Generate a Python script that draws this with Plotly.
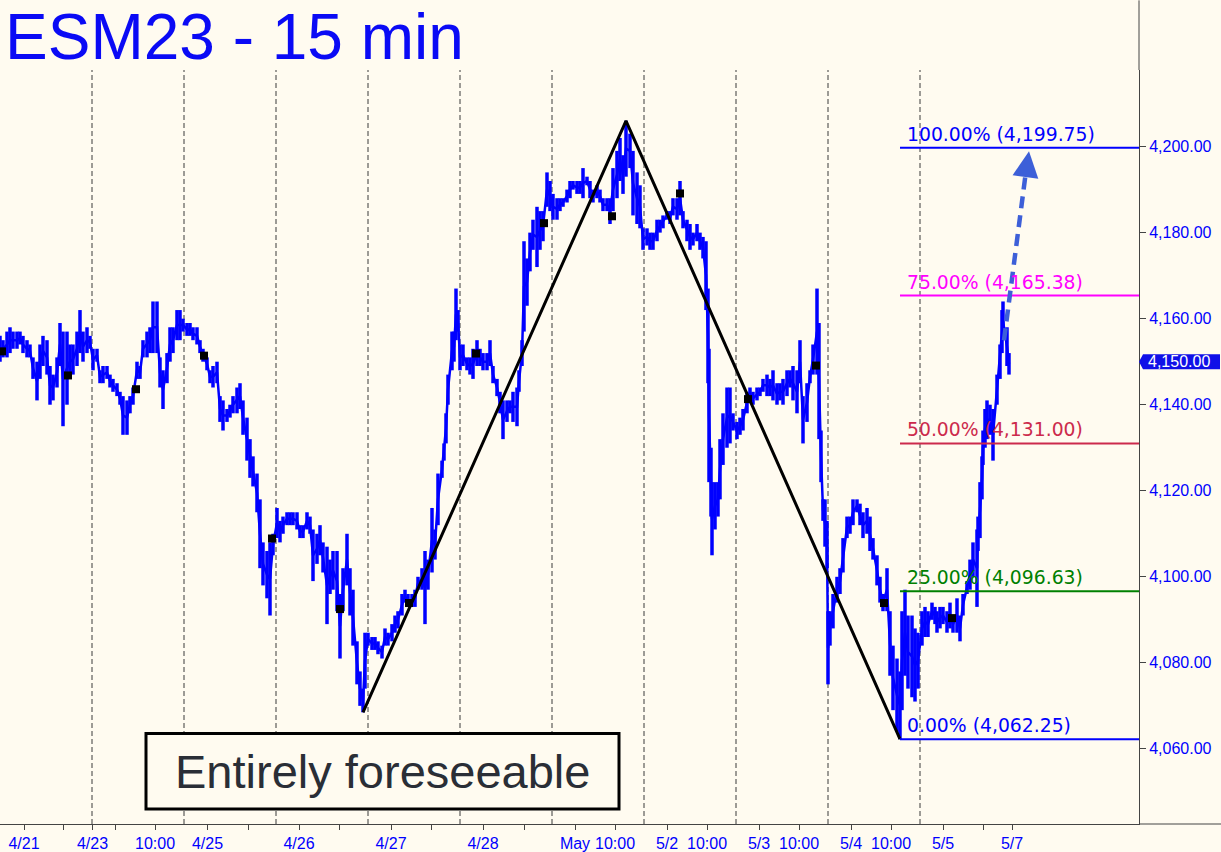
import plotly.graph_objects as go

# ---------------- data ----------------
bars = [0,3,7,10,13,17,20,23,27,30,33,37,40,43,47,50,53,57,60,63,67,70,73,77,80,83,87,90,93,97,
        100,103,107,110,113,117,120,123,127,130,133,137,140,143,147,150,153,157,160,163,167,170,173,177,180,183,187,190,193,197,
        200,203,207,210,213,217,220,223,227,230,233,237,240,243,247,250,253,257,260,263,267,270,273,277,280,283,287,290,293,297,
        300,303,307,310,313,317,320,323,327,330,333,337,340,343,347,350,353,357,360,363,365,368,372,375,378,382,385,388,392,395,398,
        402,405,408,412,415,418,422,425,428,432,435,438,442,444,446,448,452,454,456,458,460,463,467,470,473,477,480,483,487,490,493,497,
        500,503,507,510,513,517,519,522,524,527,530,533,537,540,543,547,550,553,557,560,563,567,570,573,577,580,583,587,590,593,597,
        600,603,607,610,613,617,620,623,626,630,633,637,640,643,647,650,653,657,660,663,667,670,673,677,680,683,687,690,693,697,
        700,703,706,708,709,711,712,715,718,720,723,727,730,733,737,740,743,747,750,753,757,760,763,767,770,773,777,780,783,787,790,793,797,
        800,803,807,810,813,817,819,821,823,825,827,828,830,833,837,840,843,847,850,853,857,860,863,867,870,873,877,880,883,887,890,893,897,
        900,902,905,908,912,915,918,922,925,928,932,935,937,940,943,947,950,953,957,960,963,967,970,973,977,978,980,982,983,985,987,990,993,997,
        1000,1002,1003,1007,1009]

highs = [4156,4155,4157,4158,4157,4157,4157,4156,4155,4154,4151,4150,4154,4156,4155,4149,4147,4151,4159,4157,4157,4154,4154,4157,4162,4157,4158,4156,4153,4153,
         4148,4149,4149,4147,4146,4145,4143,4142,4141,4142,4144,4150,4149,4155,4157,4158,4164,4164,4151,4148,4152,4158,4158,4162,4162,4160,4159,4159,4158,4158,
         4155,4153,4151,4148,4149,4150,4142,4141,4139,4140,4142,4144,4145,4141,4137,4132,4128,4124,4118,4108,4106,4108,4110,4116,4113,4114,4115,4115,4115,4115,
         4112,4112,4115,4114,4111,4110,4112,4108,4107,4104,4106,4106,4096,4102,4110,4102,4097,4085,4078,4074,4087,4087,4086,4086,4085,4084,4088,4087,4089,4091,4092,
         4096,4097,4096,4096,4097,4100,4102,4106,4104,4116,4111,4124,4127,4131,4138,4147,4157,4157,4167,4162,4154,4154,4151,4151,4153,4155,4153,4152,4152,4155,4149,4146,
         4143,4141,4141,4141,4143,4144,4148,4155,4178,4174,4180,4183,4186,4185,4185,4194,4192,4189,4188,4188,4188,4190,4192,4192,4192,4192,4195,4193,4192,4190,4191,
         4190,4188,4188,4188,4195,4199,4202,4198,4206,4203,4199,4194,4191,4181,4181,4180,4180,4183,4183,4184,4185,4185,4188,4188,4192,4185,4183,4182,4180,4182,
         4180,4179,4178,4167,4153,4130,4122,4122,4122,4132,4138,4144,4144,4138,4136,4137,4139,4143,4144,4143,4144,4144,4146,4147,4146,4148,4145,4145,4146,4148,4148,4149,4148,
         4155,4142,4145,4148,4154,4167,4159,4134,4118,4118,4113,4092,4092,4096,4100,4102,4109,4114,4114,4118,4118,4117,4115,4116,4114,4109,4105,4100,4096,4102,4092,4084,4081,
         4078,4092,4097,4091,4091,4088,4087,4092,4093,4092,4094,4093,4092,4093,4093,4092,4094,4091,4095,4091,4096,4099,4104,4108,4111,4114,4122,4128,4134,4139,4141,4140,4139,4147,
         4154,4162,4164,4158,4152]

lows = [4150,4151,4151,4152,4153,4153,4154,4152,4151,4151,4146,4141,4146,4149,4147,4140,4141,4144,4149,4135,4140,4146,4147,4149,4152,4150,4152,4153,4148,4150,
        4145,4145,4146,4144,4143,4142,4140,4133,4133,4138,4140,4146,4146,4151,4151,4152,4152,4152,4144,4139,4145,4150,4152,4155,4155,4157,4156,4156,4155,4154,
        4152,4150,4148,4145,4144,4145,4136,4134,4136,4137,4138,4138,4139,4133,4127,4123,4121,4115,4102,4098,4095,4091,4105,4109,4108,4110,4112,4112,4112,4111,
        4109,4109,4111,4110,4099,4103,4105,4101,4089,4096,4097,4092,4081,4092,4098,4091,4084,4075,4070,4068.5,4074,4084,4083,4083,4082,4081,4084,4084,4085,4087,4088,
        4091,4094,4093,4093,4093,4097,4097,4089,4097,4101,4104,4112,4123,4127,4131,4140,4148,4150,4155,4157,4148,4149,4148,4147,4146,4149,4149,4148,4148,4149,4145,4142,
        4138,4132,4136,4138,4136,4135,4143,4149,4157,4163,4171,4176,4172,4176,4178,4186,4185,4183,4183,4185,4186,4187,4188,4190,4189,4189,4188,4191,4188,4187,4188,
        4187,4185,4185,4182,4185,4188,4192,4189,4193,4195,4184,4182,4181,4176,4177,4176,4176,4178,4180,4181,4183,4182,4184,4183,4184,4181,4178,4176,4177,4178,
        4176,4174,4162,4145,4122,4114,4105,4111,4114,4118,4126,4130,4131,4134,4132,4133,4134,4138,4141,4140,4141,4142,4143,4142,4142,4141,4140,4141,4140,4142,4144,4141,4138,
        4145,4131,4136,4145,4147,4147,4132,4122,4113,4107,4102,4075,4084,4088,4094,4096,4101,4109,4110,4112,4115,4112,4109,4110,4106,4104,4098,4094,4092,4092,4077,4069,4064,
        4062.25,4069,4077,4074,4072,4071,4074,4084,4086,4086,4090,4089,4087,4088,4089,4087,4088,4087,4087,4085,4091,4096,4097,4100,4093,4106,4109,4118,4126,4130,4132,4133,4127,4140,
        4146,4152,4155,4149,4147]

# black square session markers
sq_bars = [2, 68, 136, 204, 272, 340, 409, 476, 544, 612, 680, 748, 816, 884, 952]
sq_prices = [4152.4, 4146.8, 4143.6, 4151.4, 4108.9, 4092.5, 4093.9, 4151.9, 4182.2, 4183.8,
             4189.1, 4141.3, 4149.1, 4093.9, 4090.4]

# ABC zigzag pivots
zz_bars = [363, 626, 900]
zz_prices = [4068.5, 4206.0, 4062.25]

# Fibonacci levels
fib_start_bar = 900
fib_pcts = ["0.00%", "25.00%", "50.00%", "75.00%", "100.00%"]
fib_vals = [4062.25, 4096.63, 4131.00, 4165.38, 4199.75]
fib_colors = ["#0000FF", "#008000", "#CC2A4C", "#FF00FF", "#0000FF"]

# projected move arrow
arrow_bars = [1004, 1026.5, 1029]
arrow_prices = [4155.0, 4195.2, 4198.9]

# session separators
session_bars = [92, 184, 276, 368, 460, 552, 644, 736, 828, 920]

# x-axis ticks
tick_bars = [24, 63.6, 92.5, 115, 155, 207.5, 248, 299, 339, 391, 431.6, 483, 524, 575, 615,
             667, 707, 759, 799, 851, 891, 943, 983, 1012]
tick_text = ["4/21", "", "4/23", "", "10:00", "4/25", "", "4/26", "", "4/27", "", "4/28", "",
             "May", "10:00", "5/2", "10:00", "5/3", "10:00", "5/4", "10:00", "5/5", "", "5/7"]

y_ticks = [4060, 4080, 4100, 4120, 4140, 4160, 4180, 4200]
last_price = 4150.00

title_text = "ESM23 - 15 min"
note_text = "Entirely foreseeable"

# ---------------- figure ----------------
BG = "#FFFBF0"
BLUE = "#0000FF"
W, H = 1221, 852
ML, MR, MT, MB = 0, 82, 70, 24
PW, PH = W - ML - MR, H - MT - MB

fig = go.Figure()

# high-low range bars
seg_x, seg_y = [], []
for b, hi, lo in zip(bars, highs, lows):
    seg_x += [b, b, None]
    seg_y += [lo, hi, None]
fig.add_trace(go.Scatter(x=seg_x, y=seg_y, mode="lines",
                         line=dict(color=BLUE, width=3.5), hoverinfo="skip", showlegend=False))
mids = [(h + l) / 2 for h, l in zip(highs, lows)]
fig.add_trace(go.Scatter(x=bars, y=mids, mode="lines",
                         line=dict(color=BLUE, width=2.5), showlegend=False))

# zigzag
fig.add_trace(go.Scatter(x=zz_bars, y=zz_prices, mode="lines",
                         line=dict(color="black", width=3), showlegend=False))

# squares
fig.add_trace(go.Scatter(x=sq_bars, y=sq_prices, mode="markers",
                         marker=dict(symbol="square", size=8, color="black"), showlegend=False))

shapes = []
for sb in session_bars:
    shapes.append(dict(type="line", xref="x", yref="paper", x0=sb, x1=sb, y0=0, y1=1,
                       line=dict(color="#3A3A3A", width=1, dash="5px,3px"), layer="below"))

annotations = []
for pct, val, col in zip(fib_pcts, fib_vals, fib_colors):
    shapes.append(dict(type="line", xref="x", yref="y", x0=fib_start_bar, x1=PW, y0=val, y1=val,
                       line=dict(color=col, width=2), layer="above"))
    annotations.append(dict(xref="x", yref="y", x=fib_start_bar + 5, y=val, xanchor="left",
                            yanchor="bottom", yshift=1, showarrow=False,
                            text=f"{pct} ({val:,.2f})",
                            font=dict(family="DejaVu Sans", size=18.8, color=col)))

# dashed projected arrow
shapes.append(dict(type="line", xref="x", yref="y", x0=arrow_bars[0], y0=arrow_prices[0],
                   x1=arrow_bars[1], y1=arrow_prices[1],
                   line=dict(color="#3D5FD8", width=4.5, dash="12px,7px"), layer="above"))
annotations.append(dict(xref="x", yref="y", axref="x", ayref="y",
                        x=arrow_bars[2], y=arrow_prices[2], ax=arrow_bars[1], ay=arrow_prices[1] - 0.5,
                        showarrow=True, arrowhead=2, arrowsize=1.3, arrowwidth=4,
                        arrowcolor="#3D5FD8", text=""))

# note box
shapes.append(dict(type="rect", xref="paper", yref="paper",
                   x0=146 / PW, x1=619 / PW, y0=(PH - 813 + MT) / PH, y1=(PH - 737 + MT) / PH,
                   line=dict(color="black", width=3), fillcolor=BG, layer="above"))
annotations.append(dict(xref="paper", yref="paper", x=382.5 / PW, y=(PH - 775 + MT) / PH,
                        xanchor="center", yanchor="middle", showarrow=False, text=note_text,
                        font=dict(family="Arial, Liberation Sans", size=47, color="#2A2E36")))

# title
annotations.append(dict(xref="paper", yref="paper", x=3 / PW, y=1 + (MT - 37) / PH,
                        xanchor="left", yanchor="middle", showarrow=False, text=title_text,
                        font=dict(family="Arial, Liberation Sans", size=64, color="#0A0AF5")))

# last-price tag
ytop = last_price + 1.75
ybot = last_price - 1.75
x_tip, x_l, x_r = 1.0, (PW + 4) / PW, (W - 1) / PW
shapes.append(dict(type="path", xref="paper", yref="y",
                   path=f"M {x_tip} {last_price} L {x_l} {ytop} L {x_r} {ytop} L {x_r} {ybot} L {x_l} {ybot} Z",
                   fillcolor="#1010E8", line=dict(width=0), layer="above"))
annotations.append(dict(xref="paper", yref="y", x=(PW + 7) / PW, y=last_price, xanchor="left",
                        yanchor="middle", showarrow=False, text=f"{last_price:,.2f}",
                        font=dict(family="Arial, Liberation Sans", size=16, color="white")))

# axis extensions
shapes.append(dict(type="line", xref="paper", yref="paper", x0=1, x1=1, y0=1, y1=1 + MT / PH,
                   line=dict(color="#444444", width=1)))
shapes.append(dict(type="line", xref="paper", yref="paper", x0=1, x1=W / PW, y0=0, y1=0,
                   line=dict(color="#444444", width=1)))

fig.update_layout(
    width=W, height=H,
    margin=dict(l=ML, r=MR, t=MT, b=MB, pad=0),
    paper_bgcolor=BG, plot_bgcolor=BG,
    showlegend=False,
    shapes=shapes, annotations=annotations,
    xaxis=dict(range=[0, PW], showgrid=False, zeroline=False, showline=True,
               linecolor="#444444", linewidth=1, ticks="outside", ticklen=5, tickcolor="#444444",
               tickmode="array", tickvals=tick_bars, ticktext=tick_text,
               tickfont=dict(family="Arial, Liberation Sans", size=16, color=BLUE)),
    yaxis=dict(range=[4042.54, 4217.8], side="right", showgrid=False, zeroline=False,
               showline=True, linecolor="#444444", linewidth=1, ticks="outside", ticklen=6,
               tickcolor="#444444", tickmode="array", tickvals=y_ticks, tickformat=",.2f",
               tickfont=dict(family="Arial, Liberation Sans", size=16, color=BLUE)),
)

fig.write_html("out.html", config={"displayModeBar": False},
               post_script="document.body.style.margin='0';document.body.style.overflow='hidden';")
